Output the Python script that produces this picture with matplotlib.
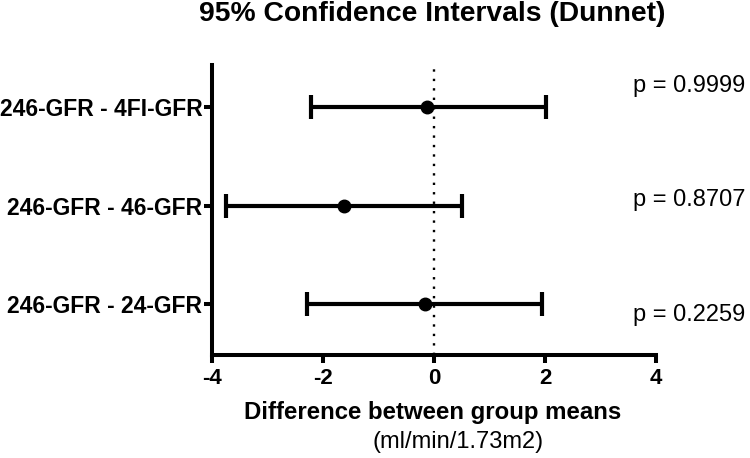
import matplotlib
matplotlib.use("Agg")
import matplotlib.pyplot as plt
import numpy as np

plt.rcParams['font.family'] = ['Liberation Sans', 'DejaVu Sans']

# comparisons, top to bottom
comparisons = ["246-GFR - 4FI-GFR", "246-GFR - 46-GFR", "246-GFR - 24-GFR"]
mean_diff = [-0.12, -1.63, -0.17]
ci_low = [-2.22, -3.75, -2.29]
ci_high = [2.01, 0.50, 1.94]
p_values = ["p = 0.9999", "p = 0.8707", "p = 0.2259"]

W, H = 750, 458
fig = plt.figure(figsize=(7.5, 4.58), dpi=100)
ax = fig.add_axes([212 / W, 1 - 355 / H, 444 / W, 290 / H])

ypos = np.arange(len(comparisons))[::-1]
means = np.array(mean_diff)
err = [means - np.array(ci_low), np.array(ci_high) - means]

# dotted line at zero
ax.axvline(0, color="black", lw=1.7, linestyle=(0, (1, 3.0)), zorder=1)

ax.errorbar(means, ypos, xerr=err, fmt="o", color="black", ms=9,
            elinewidth=3.0, capsize=8.5, capthick=3.0, zorder=3)

ax.set_xlim(-4, 4)
ax.set_ylim(-0.52, 2.43)
ax.set_xticks([-4, -2, 0, 2, 4])
ax.set_xticklabels(["-4", "-2", "0", "2", "4"], fontweight="bold", fontsize=16)
ax.set_yticks(ypos)
ax.set_yticklabels(comparisons, fontweight="bold", fontsize=16.5)

for s in ["top", "right"]:
    ax.spines[s].set_visible(False)
for s in ["left", "bottom"]:
    ax.spines[s].set_linewidth(2.9)
ax.tick_params(axis="both", width=2.9, length=5.5, direction="out")
ax.tick_params(axis="y", pad=1.5)
ax.tick_params(axis="x", pad=3.5)

# p values to the right of the plot
p_y = [2.22, 1.056, -0.11]
for yy, txt in zip(p_y, p_values):
    ax.text(3.59, yy, txt, fontsize=17, ha="left", va="center", clip_on=False)

fig.text(432 / W, 1 - 14 / H, "95% Confidence Intervals (Dunnet)",
         fontweight="bold", fontsize=20.3, ha="center", va="center")
fig.text(433 / W, 1 - 413 / H, "Difference between group means",
         fontweight="bold", fontsize=17.3, ha="center", va="center")
fig.text(458 / W, 1 - 442 / H, "(ml/min/1.73m2)", fontsize=17,
         ha="center", va="center")

fig.savefig("out.png", dpi=100)
